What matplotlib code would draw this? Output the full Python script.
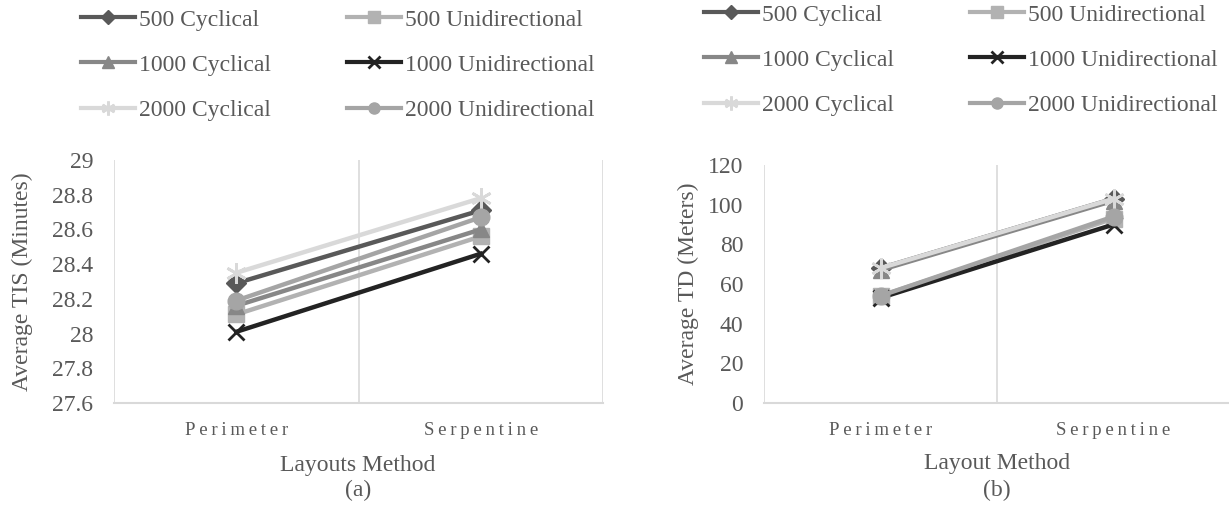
import matplotlib.pyplot as plt

plt.rcParams['font.family'] = ['Liberation Serif', 'DejaVu Serif']

LAYOUTS = ['Perimeter', 'Serpentine']
SERIES = ['500 Cyclical', '500 Unidirectional', '1000 Cyclical',
          '1000 Unidirectional', '2000 Cyclical', '2000 Unidirectional']

# average time in system (minutes)
tis_500_cyc = [28.29, 28.71]
tis_500_uni = [28.11, 28.56]
tis_1000_cyc = [28.16, 28.60]
tis_1000_uni = [28.01, 28.46]
tis_2000_cyc = [28.35, 28.78]
tis_2000_uni = [28.19, 28.67]

# average travel distance (meters)
td_500_cyc = [68, 103]
td_500_uni = [54, 93]
td_1000_cyc = [67, 102]
td_1000_uni = [53, 90]
td_2000_cyc = [68, 103]
td_2000_uni = [54, 94]

TIS_TICKS = [27.6, 27.8, 28, 28.2, 28.4, 28.6, 28.8, 29]
TD_TICKS = [0, 20, 40, 60, 80, 100, 120]

STYLES = {
    '500 Cyclical': dict(color='#595959', marker='D', ms=10, lms=7),
    '500 Unidirectional': dict(color='#b2b2b2', marker='s', ms=11, lms=8),
    '1000 Cyclical': dict(color='#878787', marker='^', ms=12, lms=9),
    '1000 Unidirectional': dict(color='#232323', marker='x', ms=12, mew=2, lms=9),
    '2000 Cyclical': dict(color='#d9d9d9', marker=(6, 2, 0), ms=15, mew=2, lms=10),
    '2000 Unidirectional': dict(color='#a5a5a5', marker='o', ms=12, lms=8),
}
ORDER = ['500 Cyclical', '1000 Cyclical', '2000 Cyclical',
         '500 Unidirectional', '1000 Unidirectional', '2000 Unidirectional']
TEXT = '#595959'
GRID = '#d9d9d9'
FS = 17
W, H = 1229, 508


def spaced(s):
    return '\u2009'.join(s)


def draw(ax, data, ticks, ylabel, ylab_x):
    x = range(len(LAYOUTS))
    handles = {}
    for name, vals in zip(SERIES, data):
        st = STYLES[name]
        h, = ax.plot(x, vals, color=st['color'], lw=3.2, marker=st['marker'],
                     ms=st['ms'], mew=st.get('mew', 1), mec=st['color'],
                     label=name, clip_on=False)
        handles[name] = h
    ax.set_xlim(-0.5, 1.5)
    ax.set_ylim(ticks[0], ticks[-1])
    ax.set_yticks(ticks)
    ax.set_yticklabels([f'{t:g}' for t in ticks])
    ax.set_xticks(list(x))
    ax.set_xticklabels([spaced(l) for l in LAYOUTS])
    for v in (-0.5, 0.5, 1.5):
        ax.axvline(v, color=GRID, lw=1.2, zorder=0)
    for s in ('top', 'left', 'right'):
        ax.spines[s].set_visible(False)
    ax.spines['bottom'].set_color(GRID)
    ax.spines['bottom'].set_linewidth(1.5)
    ax.tick_params(length=0, colors=TEXT)
    ax.tick_params(axis='y', labelsize=FS, pad=15)
    ax.tick_params(axis='x', labelsize=13.5, pad=14)
    ax.set_ylabel(ylabel, color=TEXT, fontsize=FS)
    ax.yaxis.set_label_coords(ylab_x, 0.5)
    return [handles[n] for n in ORDER]


def legend(handles, left_px, top_px):
    leg = fig.legend(handles, ORDER, loc='upper left',
                     bbox_to_anchor=(left_px / W, 1 - top_px / H),
                     ncol=2, frameon=False, fontsize=FS, handlelength=2.3,
                     handletextpad=0.17, columnspacing=3.2, labelspacing=1.0,
                     borderaxespad=0, borderpad=0, labelcolor=TEXT)
    for h, n in zip(leg.legend_handles, ORDER):
        h.set_markersize(STYLES[n]['lms'])
        h.set_linewidth(3)


fig = plt.figure(figsize=(W / 100, H / 100), dpi=100)
ax1 = fig.add_axes([114 / W, 105 / H, 489 / W, 243 / H])
ax2 = fig.add_axes([764 / W, 105 / H, 466 / W, 238 / H])

h1 = draw(ax1, [tis_500_cyc, tis_500_uni, tis_1000_cyc, tis_1000_uni,
                tis_2000_cyc, tis_2000_uni],
          TIS_TICKS, 'Average TIS (Minutes)', (33 - 114) / 489)
h2 = draw(ax2, [td_500_cyc, td_500_uni, td_1000_cyc, td_1000_uni,
                td_2000_cyc, td_2000_uni],
          TD_TICKS, 'Average TD (Meters)', (699 - 764) / 466)

fig.text(358 / W, 1 - 465 / H, 'Layouts Method', ha='center', va='center',
         fontsize=FS, color=TEXT)
fig.text(358 / W, 1 - 490 / H, '(a)', ha='center', va='center',
         fontsize=FS, color=TEXT)
fig.text(997 / W, 1 - 463 / H, 'Layout Method', ha='center', va='center',
         fontsize=FS, color=TEXT)
fig.text(997 / W, 1 - 490 / H, '(b)', ha='center', va='center',
         fontsize=FS, color=TEXT)

legend(h1, 81, 9)
legend(h2, 704, 4)

fig.savefig('out.png', dpi=100)
